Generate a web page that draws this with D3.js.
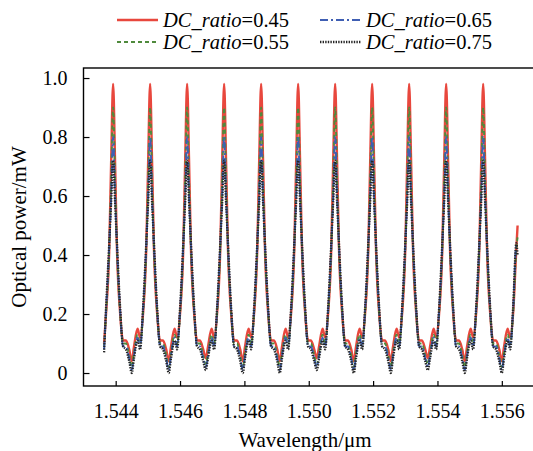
<!DOCTYPE html>
<html>
<head>
<meta charset="utf-8">
<script src="https://cdn.jsdelivr.net/npm/d3@7"></script>
<style>
    body { margin: 0; background: #fff; }
    text { font-family: "Liberation Serif", "Times New Roman", serif; }
</style>
</head>
<body>
<script>
// Transmission spectrum for four DC ratios.
// wavelength in um, power in mW. One line per FSR period.
var wavelength = [
    1.54364, 1.54370, 1.54380, 1.54386,
    1.54392, 1.54398, 1.54404, 1.54414, 1.54423, 1.54432, 1.54442, 1.54450, 1.54457, 1.54468, 1.54476, 1.54485, 1.54495, 1.54501,
    1.54507, 1.54513, 1.54519, 1.54529, 1.54538, 1.54547, 1.54557, 1.54565, 1.54572, 1.54583, 1.54591, 1.54600, 1.54610, 1.54616,
    1.54622, 1.54628, 1.54634, 1.54644, 1.54653, 1.54662, 1.54672, 1.54680, 1.54687, 1.54698, 1.54706, 1.54715, 1.54725, 1.54731,
    1.54737, 1.54743, 1.54749, 1.54759, 1.54768, 1.54777, 1.54787, 1.54795, 1.54802, 1.54813, 1.54821, 1.54830, 1.54840, 1.54846,
    1.54852, 1.54858, 1.54864, 1.54874, 1.54883, 1.54892, 1.54902, 1.54910, 1.54917, 1.54928, 1.54936, 1.54945, 1.54955, 1.54961,
    1.54967, 1.54973, 1.54979, 1.54989, 1.54998, 1.55007, 1.55017, 1.55025, 1.55032, 1.55043, 1.55051, 1.55060, 1.55070, 1.55076,
    1.55082, 1.55088, 1.55094, 1.55104, 1.55113, 1.55122, 1.55132, 1.55140, 1.55147, 1.55158, 1.55166, 1.55175, 1.55185, 1.55191,
    1.55197, 1.55203, 1.55209, 1.55219, 1.55228, 1.55237, 1.55247, 1.55255, 1.55262, 1.55273, 1.55281, 1.55290, 1.55300, 1.55306,
    1.55312, 1.55318, 1.55324, 1.55334, 1.55343, 1.55352, 1.55362, 1.55370, 1.55377, 1.55388, 1.55396, 1.55405, 1.55415, 1.55421,
    1.55427, 1.55433, 1.55439, 1.55449, 1.55458, 1.55467, 1.55477, 1.55485, 1.55492, 1.55503, 1.55511, 1.55520, 1.55530, 1.55536,
    1.55542, 1.55548, 1.55554, 1.55564, 1.55573, 1.55582, 1.55592, 1.55600, 1.55607, 1.55618, 1.55626, 1.55635, 1.55645, 1.55649
];

var power045 = [
    0.10, 0.20, 0.42, 0.72,
    0.98, 0.72, 0.42, 0.20, 0.11, 0.11, 0.08, 0.04, 0.09, 0.15, 0.12, 0.20, 0.42, 0.72,
    0.98, 0.72, 0.42, 0.20, 0.11, 0.11, 0.08, 0.04, 0.09, 0.15, 0.12, 0.20, 0.42, 0.72,
    0.98, 0.72, 0.42, 0.20, 0.11, 0.11, 0.08, 0.05, 0.09, 0.15, 0.12, 0.20, 0.42, 0.72,
    0.98, 0.72, 0.42, 0.20, 0.11, 0.11, 0.08, 0.04, 0.09, 0.15, 0.12, 0.20, 0.42, 0.72,
    0.98, 0.72, 0.42, 0.20, 0.11, 0.11, 0.08, 0.04, 0.09, 0.15, 0.12, 0.20, 0.42, 0.72,
    0.98, 0.72, 0.42, 0.20, 0.11, 0.11, 0.08, 0.05, 0.09, 0.15, 0.12, 0.20, 0.42, 0.72,
    0.98, 0.72, 0.42, 0.20, 0.11, 0.11, 0.08, 0.04, 0.09, 0.15, 0.12, 0.20, 0.42, 0.72,
    0.98, 0.72, 0.42, 0.20, 0.11, 0.11, 0.08, 0.04, 0.09, 0.15, 0.12, 0.20, 0.42, 0.72,
    0.98, 0.72, 0.42, 0.20, 0.11, 0.11, 0.08, 0.05, 0.09, 0.15, 0.12, 0.20, 0.42, 0.72,
    0.98, 0.72, 0.42, 0.20, 0.11, 0.11, 0.08, 0.04, 0.09, 0.15, 0.12, 0.20, 0.42, 0.72,
    0.98, 0.72, 0.42, 0.20, 0.11, 0.11, 0.08, 0.04, 0.09, 0.15, 0.12, 0.20, 0.42, 0.50
];

var power055 = [
    0.09, 0.20, 0.42, 0.66,
    0.90, 0.66, 0.42, 0.20, 0.10, 0.10, 0.06, 0.02, 0.07, 0.13, 0.10, 0.20, 0.42, 0.66,
    0.90, 0.66, 0.42, 0.20, 0.10, 0.10, 0.06, 0.02, 0.07, 0.13, 0.10, 0.20, 0.42, 0.66,
    0.90, 0.66, 0.42, 0.20, 0.10, 0.10, 0.06, 0.03, 0.07, 0.13, 0.10, 0.20, 0.42, 0.66,
    0.90, 0.66, 0.42, 0.20, 0.10, 0.10, 0.06, 0.02, 0.07, 0.13, 0.10, 0.20, 0.42, 0.66,
    0.90, 0.66, 0.42, 0.20, 0.10, 0.10, 0.06, 0.02, 0.07, 0.13, 0.10, 0.20, 0.42, 0.66,
    0.90, 0.66, 0.42, 0.20, 0.10, 0.10, 0.06, 0.03, 0.07, 0.13, 0.10, 0.20, 0.42, 0.66,
    0.90, 0.66, 0.42, 0.20, 0.10, 0.10, 0.06, 0.02, 0.07, 0.13, 0.10, 0.20, 0.42, 0.66,
    0.90, 0.66, 0.42, 0.20, 0.10, 0.10, 0.06, 0.02, 0.07, 0.13, 0.10, 0.20, 0.42, 0.66,
    0.90, 0.66, 0.42, 0.20, 0.10, 0.10, 0.06, 0.03, 0.07, 0.13, 0.10, 0.20, 0.42, 0.66,
    0.90, 0.66, 0.42, 0.20, 0.10, 0.10, 0.06, 0.02, 0.07, 0.13, 0.10, 0.20, 0.42, 0.66,
    0.90, 0.66, 0.42, 0.20, 0.10, 0.10, 0.06, 0.02, 0.07, 0.13, 0.10, 0.20, 0.42, 0.46
];

var power065 = [
    0.08, 0.21, 0.43, 0.60,
    0.80, 0.60, 0.43, 0.21, 0.09, 0.09, 0.05, 0.01, 0.06, 0.12, 0.09, 0.21, 0.43, 0.60,
    0.80, 0.60, 0.43, 0.21, 0.09, 0.09, 0.05, 0.01, 0.06, 0.12, 0.09, 0.21, 0.43, 0.60,
    0.80, 0.60, 0.43, 0.21, 0.09, 0.09, 0.05, 0.02, 0.06, 0.12, 0.09, 0.21, 0.43, 0.60,
    0.80, 0.60, 0.43, 0.21, 0.09, 0.09, 0.05, 0.01, 0.06, 0.12, 0.09, 0.21, 0.43, 0.60,
    0.80, 0.60, 0.43, 0.21, 0.09, 0.09, 0.05, 0.01, 0.06, 0.12, 0.09, 0.21, 0.43, 0.60,
    0.80, 0.60, 0.43, 0.21, 0.09, 0.09, 0.05, 0.02, 0.06, 0.12, 0.09, 0.21, 0.43, 0.60,
    0.80, 0.60, 0.43, 0.21, 0.09, 0.09, 0.05, 0.01, 0.06, 0.12, 0.09, 0.21, 0.43, 0.60,
    0.80, 0.60, 0.43, 0.21, 0.09, 0.09, 0.05, 0.01, 0.06, 0.12, 0.09, 0.21, 0.43, 0.60,
    0.80, 0.60, 0.43, 0.21, 0.09, 0.09, 0.05, 0.02, 0.06, 0.12, 0.09, 0.21, 0.43, 0.60,
    0.80, 0.60, 0.43, 0.21, 0.09, 0.09, 0.05, 0.01, 0.06, 0.12, 0.09, 0.21, 0.43, 0.60,
    0.80, 0.60, 0.43, 0.21, 0.09, 0.09, 0.05, 0.01, 0.06, 0.12, 0.09, 0.21, 0.43, 0.42
];

var power075 = [
    0.07, 0.22, 0.44, 0.58,
    0.72, 0.58, 0.44, 0.22, 0.09, 0.08, 0.04, 0.00, 0.05, 0.11, 0.08, 0.22, 0.44, 0.58,
    0.72, 0.58, 0.44, 0.22, 0.09, 0.08, 0.04, 0.00, 0.05, 0.11, 0.08, 0.22, 0.44, 0.58,
    0.72, 0.58, 0.44, 0.22, 0.09, 0.08, 0.04, 0.01, 0.05, 0.11, 0.08, 0.22, 0.44, 0.58,
    0.72, 0.58, 0.44, 0.22, 0.09, 0.08, 0.04, 0.00, 0.05, 0.11, 0.08, 0.22, 0.44, 0.58,
    0.72, 0.58, 0.44, 0.22, 0.09, 0.08, 0.04, 0.00, 0.05, 0.11, 0.08, 0.22, 0.44, 0.58,
    0.72, 0.58, 0.44, 0.22, 0.09, 0.08, 0.04, 0.01, 0.05, 0.11, 0.08, 0.22, 0.44, 0.58,
    0.72, 0.58, 0.44, 0.22, 0.09, 0.08, 0.04, 0.00, 0.05, 0.11, 0.08, 0.22, 0.44, 0.58,
    0.72, 0.58, 0.44, 0.22, 0.09, 0.08, 0.04, 0.00, 0.05, 0.11, 0.08, 0.22, 0.44, 0.58,
    0.72, 0.58, 0.44, 0.22, 0.09, 0.08, 0.04, 0.01, 0.05, 0.11, 0.08, 0.22, 0.44, 0.58,
    0.72, 0.58, 0.44, 0.22, 0.09, 0.08, 0.04, 0.00, 0.05, 0.11, 0.08, 0.22, 0.44, 0.58,
    0.72, 0.58, 0.44, 0.22, 0.09, 0.08, 0.04, 0.00, 0.05, 0.11, 0.08, 0.22, 0.44, 0.40
];

var seriesNames = ["0.45", "0.55", "0.65", "0.75"];
var xTicks = [1.544, 1.546, 1.548, 1.550, 1.552, 1.554, 1.556];
var yTicks = [0, 0.2, 0.4, 0.6, 0.8, 1.0];

// plot box (right edge falls just outside the picture)
var box = {left: 83.5, right: 534, top: 68, bottom: 386};
var W = 533, H = 451;

var svg = d3.select("body").append("svg")
    .attr("width", W)
    .attr("height", H);

var xScale = d3.scaleLinear().domain([1.543, 1.557]).range([box.left, box.right]);
var yScale = d3.scaleLinear().domain([-0.044, 1.034]).range([box.bottom, box.top]);

// line style per series, drawn in this order (red underneath)
var styles = [
    {data: power045, color: "#e8473d", width: 2.4, dash: null},
    {data: power055, color: "#4f8a3c", width: 1.9, dash: "4,3"},
    {data: power065, color: "#3f5fb3", width: 1.9, dash: "8,3,2,3"},
    {data: power075, color: "#262626", width: 2.3, dash: "1.4,1.2"}
];

var line = d3.line()
    .x(function(d) { return xScale(d[0]); })
    .y(function(d) { return yScale(d[1]); })
    .curve(d3.curveMonotoneX);

styles.forEach(function(s) {
    var pts = wavelength.map(function(w, i) { return [w, s.data[i]]; });
    svg.append("path")
        .datum(pts)
        .attr("fill", "none")
        .attr("stroke", s.color)
        .attr("stroke-width", s.width)
        .attr("stroke-dasharray", s.dash)
        .attr("d", line);
});

// axes with inward ticks
var xAxis = d3.axisBottom(xScale)
    .tickValues(xTicks)
    .tickSize(-5)
    .tickPadding(18)
    .tickFormat(d3.format(".3f"));

var yAxis = d3.axisLeft(yScale)
    .tickValues(yTicks)
    .tickSize(-6)
    .tickPadding(16)
    .tickFormat(function(d) { return d === 0 ? "0" : d3.format(".1f")(d); });

var gx = svg.append("g")
    .attr("transform", "translate(0," + box.bottom + ")")
    .call(xAxis);
var gy = svg.append("g")
    .attr("transform", "translate(" + box.left + ",0)")
    .call(yAxis);

[gx, gy].forEach(function(g) {
    g.select(".domain").remove();
    g.selectAll("line").attr("stroke", "#000").attr("stroke-width", 1.2);
    g.selectAll("text")
        .attr("fill", "#000")
        .style("font-family", "'Liberation Serif', serif")
        .style("font-size", "20px");
});

// frame
svg.append("rect")
    .attr("x", box.left)
    .attr("y", box.top)
    .attr("width", box.right - box.left)
    .attr("height", box.bottom - box.top)
    .attr("fill", "none")
    .attr("stroke", "#000")
    .attr("stroke-width", 1.4);

// axis titles
svg.append("text")
    .attr("x", 305)
    .attr("y", 447)
    .attr("text-anchor", "middle")
    .style("font-size", "21px")
    .text("Wavelength/\u03bcm");

svg.append("text")
    .attr("transform", "translate(26," + ((box.top + box.bottom) / 2) + ") rotate(-90)")
    .attr("text-anchor", "middle")
    .style("font-size", "21px")
    .text("Optical power/mW");

// legend: two columns, two rows
var legendPos = [
    {x: 117, y: 20},
    {x: 117, y: 42},
    {x: 320, y: 20},
    {x: 320, y: 42}
];

styles.forEach(function(s, i) {
    var p = legendPos[i];
    svg.append("line")
        .attr("x1", p.x)
        .attr("x2", p.x + 41)
        .attr("y1", p.y)
        .attr("y2", p.y)
        .attr("stroke", s.color)
        .attr("stroke-width", s.width)
        .attr("stroke-dasharray", s.dash);
    var t = svg.append("text")
        .attr("x", p.x + 46)
        .attr("y", p.y + 6.5)
        .style("font-size", "20.5px");
    t.append("tspan").style("font-style", "italic").text("DC_ratio");
    t.append("tspan").text("=" + seriesNames[i]);
});
</script>
</body>
</html>
